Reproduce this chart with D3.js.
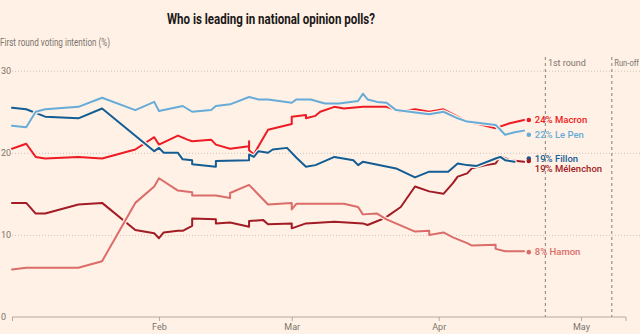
<!DOCTYPE html>
<html>
<head>
<meta charset="utf-8">
<script src="https://cdn.jsdelivr.net/npm/d3@7"></script>
<style>
  body { margin: 0; background: #fff1e5; }
  svg { display: block; font-family: Roboto, "Noto Sans", sans-serif; }
</style>
</head>
<body>
<div id="chart"></div>
<script>
// poll averages: [date, %]
let macronPolls = [["2017-01-01",20.5],["2017-01-04",21.1],["2017-01-06",19.5],["2017-01-08",19.3],["2017-01-15",19.5],["2017-01-20",19.3],["2017-01-27",20.4],["2017-01-31",21.9],["2017-02-01",21.0],["2017-02-05",22.1],["2017-02-07",21.6],["2017-02-08",21.4],["2017-02-12",21.6],["2017-02-13",21.0],["2017-02-16",20.5],["2017-02-20",20.8],["2017-02-20",21.4],["2017-02-20",20.3],["2017-02-21",19.8],["2017-02-24",22.8],["2017-03-01",23.5],["2017-03-01",24.4],["2017-03-04",24.6],["2017-03-04",24.2],["2017-03-06",24.5],["2017-03-07",25.0],["2017-03-10",25.6],["2017-03-12",25.4],["2017-03-16",25.6],["2017-03-21",25.6],["2017-03-24",25.0],["2017-03-27",25.3],["2017-03-30",25.0],["2017-04-02",25.3],["2017-04-05",24.4],["2017-04-07",23.8],["2017-04-10",23.4],["2017-04-13",23.0],["2017-04-16",23.6],["2017-04-19",24.0]];
let lePenPolls = [["2017-01-01",23.3],["2017-01-04",23.1],["2017-01-06",25.0],["2017-01-08",25.3],["2017-01-15",25.6],["2017-01-20",26.7],["2017-01-27",25.2],["2017-01-31",26.2],["2017-02-01",25.1],["2017-02-06",25.7],["2017-02-08",25.0],["2017-02-12",25.2],["2017-02-13",25.7],["2017-02-16",25.9],["2017-02-20",26.8],["2017-02-22",26.5],["2017-02-24",26.5],["2017-03-01",26.1],["2017-03-02",26.5],["2017-03-05",26.5],["2017-03-08",26.0],["2017-03-11",26.0],["2017-03-15",26.3],["2017-03-16",27.2],["2017-03-17",26.5],["2017-03-19",26.2],["2017-03-21",26.1],["2017-03-23",25.2],["2017-03-30",24.7],["2017-04-02",25.0],["2017-04-05",24.2],["2017-04-07",23.8],["2017-04-13",23.4],["2017-04-14",22.8],["2017-04-15",22.2],["2017-04-17",22.5],["2017-04-19",22.7]];
let fillonPolls = [["2017-01-01",25.5],["2017-01-04",25.3],["2017-01-08",24.4],["2017-01-15",24.2],["2017-01-20",25.4],["2017-01-31",20.2],["2017-02-01",20.6],["2017-02-02",20.0],["2017-02-05",20.0],["2017-02-06",19.2],["2017-02-08",19.1],["2017-02-08",18.6],["2017-02-13",18.3],["2017-02-13",19.0],["2017-02-20",19.1],["2017-02-20",19.8],["2017-02-21",19.5],["2017-02-22",20.2],["2017-02-24",20.0],["2017-02-25",20.4],["2017-02-28",20.6],["2017-03-02",19.4],["2017-03-04",18.3],["2017-03-06",18.5],["2017-03-10",19.5],["2017-03-14",19.1],["2017-03-15",18.5],["2017-03-16",18.9],["2017-03-23",18.1],["2017-03-27",17.0],["2017-03-30",17.7],["2017-04-03",17.7],["2017-04-05",18.7],["2017-04-07",18.5],["2017-04-09",18.4],["2017-04-13",19.3],["2017-04-14",19.5],["2017-04-15",19.1],["2017-04-17",18.9]];
let melenchonPolls = [["2017-01-01",13.9],["2017-01-04",13.9],["2017-01-06",12.6],["2017-01-08",12.6],["2017-01-15",13.7],["2017-01-20",13.9],["2017-01-27",10.6],["2017-01-31",10.2],["2017-02-01",9.6],["2017-02-02",10.3],["2017-02-05",10.5],["2017-02-06",10.5],["2017-02-08",11.1],["2017-02-08",12.0],["2017-02-13",11.9],["2017-02-13",11.4],["2017-02-16",11.5],["2017-02-20",11.0],["2017-02-20",11.7],["2017-02-23",11.8],["2017-02-24",11.3],["2017-03-01",11.4],["2017-03-01",10.8],["2017-03-04",11.4],["2017-03-10",11.6],["2017-03-16",11.4],["2017-03-17",11.2],["2017-03-20",11.9],["2017-03-21",12.2],["2017-03-24",13.4],["2017-03-27",15.9],["2017-03-30",15.3],["2017-04-02",15.0],["2017-04-04",16.3],["2017-04-05",17.1],["2017-04-07",17.5],["2017-04-08",18.1],["2017-04-11",18.5],["2017-04-13",18.7],["2017-04-14",19.6],["2017-04-16",19.1],["2017-04-19",18.9]];
let hamonPolls = [["2017-01-01",5.8],["2017-01-04",6.0],["2017-01-15",6.0],["2017-01-20",6.8],["2017-01-27",13.9],["2017-01-31",15.9],["2017-02-01",16.9],["2017-02-05",15.4],["2017-02-08",15.2],["2017-02-08",14.8],["2017-02-13",14.8],["2017-02-16",14.5],["2017-02-16",15.1],["2017-02-20",16.1],["2017-02-24",13.7],["2017-03-01",13.9],["2017-03-01",13.1],["2017-03-02",13.8],["2017-03-12",13.8],["2017-03-15",13.4],["2017-03-16",12.5],["2017-03-19",12.6],["2017-03-21",11.9],["2017-03-27",10.4],["2017-03-30",10.5],["2017-03-30",10.0],["2017-04-02",10.3],["2017-04-04",9.7],["2017-04-07",9.0],["2017-04-08",8.7],["2017-04-13",8.8],["2017-04-13",8.3],["2017-04-15",8.0],["2017-04-19",8.0]];

let candidates = ["Macron", "Le Pen", "Fillon", "Mélenchon", "Hamon"];
let latestDate = "2017-04-20";
let latestValues = [24.0, 22.2, 19.3, 19.0, 7.9];
let latestLabels = ["24%", "22%", "19%", "19%", "8%"];
let yTicks = [0, 10, 20, 30];
let monthTicks = ["2017-01-01", "2017-02-01", "2017-03-01", "2017-04-01", "2017-05-01"];
let events = [["2017-04-23", "1st round"], ["2017-05-07", "Run-off"]];

let series = [macronPolls, lePenPolls, fillonPolls, melenchonPolls, hamonPolls];
let colors = ["#ee1b24", "#67acd8", "#135d94", "#a11c24", "#dc6c6a"];
let drawOrder = [0, 3, 2, 4, 1];   // Le Pen sits on top

const bg = "#fff1e5", grey = "#7b746e";
const width = 640, height = 334;
const plotLeft = 12, plotRight = 626, plotTop = 70.7, plotBottom = 317;
const parse = d3.timeParse("%Y-%m-%d");

let x = d3.scaleTime()
    .domain([parse("2017-01-01"), d3.timeHour.offset(parse("2017-05-10"), 12)])
    .range([plotLeft, plotRight]);
let y = d3.scaleLinear().domain([0, 30]).range([plotBottom, plotTop]);

let svg = d3.select("#chart").append("svg")
    .attr("width", width).attr("height", height);

svg.append("rect").attr("width", width).attr("height", height).attr("fill", bg);

svg.append("text")
    .attr("x", 167).attr("y", 24)
    .attr("font-size", 15).attr("font-weight", 700).attr("fill", "#1a1817")
    .attr("textLength", 208).attr("lengthAdjust", "spacingAndGlyphs")
    .text("Who is leading in national opinion polls?");

svg.append("text")
    .attr("x", 0).attr("y", 46)
    .attr("font-size", 11).attr("fill", grey)
    .attr("textLength", 110).attr("lengthAdjust", "spacingAndGlyphs")
    .text("First round voting intention (%)");

// y grid + labels
let yAxis = svg.append("g")
    .attr("transform", `translate(${plotLeft},0)`)
    .call(d3.axisLeft(y).tickValues(yTicks).tickSize(-(width - plotLeft)).tickFormat(d3.format("d")));
yAxis.select(".domain").remove();
yAxis.selectAll(".tick line")
    .attr("stroke", "#cfc4b8").attr("stroke-dasharray", "1,2")
    .filter(d => d === 0).remove();
yAxis.selectAll(".tick text")
    .attr("x", -plotLeft + 1).attr("text-anchor", "start")
    .attr("font-size", 9).attr("font-family", "Roboto, sans-serif").attr("fill", grey);

// x axis
let xAxis = svg.append("g")
    .attr("transform", `translate(0,${plotBottom})`)
    .call(d3.axisBottom(x).tickValues(monthTicks.map(parse)).tickSize(4).tickPadding(3)
        .tickFormat(d => d.getMonth() === 0 ? "" : d3.timeFormat("%b")(d)));
xAxis.select(".domain").remove();
xAxis.append("line").attr("x1", plotLeft).attr("x2", plotRight).attr("stroke", "#b5aca3");
xAxis.append("line").attr("x1", plotRight).attr("x2", plotRight).attr("y2", 4).attr("stroke", "#b5aca3");
xAxis.selectAll(".tick line").attr("stroke", "#b5aca3");
xAxis.selectAll(".tick text").attr("font-size", 9).attr("font-family", "Roboto, sans-serif").attr("fill", grey);

// election dates
events.forEach(([d, label]) => {
    let ex = x(d3.timeHour.offset(parse(d), 12));
    svg.append("line")
        .attr("x1", ex).attr("x2", ex).attr("y1", 57).attr("y2", plotBottom)
        .attr("stroke", "#9a928b").attr("stroke-width", 1.2).attr("stroke-dasharray", "3,3");
    let t = svg.append("text")
        .attr("x", ex + 2.5).attr("y", 66)
        .attr("font-size", 9).attr("fill", grey)
        .text(label);
    // squeeze the last label so it stays inside the frame
    let room = width - 1 - (ex + 2.5);
    if (t.node().getComputedTextLength() > room) {
        t.attr("textLength", room).attr("lengthAdjust", "spacingAndGlyphs");
    }
});

let line = d3.line()
    .x(d => x(parse(d[0])))
    .y(d => y(d[1]));

let lines = svg.append("g").attr("fill", "none")
    .attr("stroke-linejoin", "round").attr("stroke-linecap", "round");
drawOrder.forEach(i => {
    lines.append("path").attr("d", line(series[i]))
        .attr("stroke", bg).attr("stroke-width", 4.5);
    lines.append("path").attr("d", line(series[i]))
        .attr("stroke", colors[i]).attr("stroke-width", 2);
});

// end dots + labels
let lx = x(parse(latestDate));
let ends = candidates.map((name, i) => ({ name, i, cy: y(latestValues[i]), ly: y(latestValues[i]) }));
let sorted = ends.slice().sort((a, b) => a.ly - b.ly);
for (let k = 1; k < sorted.length; k++) {
    if (sorted[k].ly - sorted[k - 1].ly < 10) sorted[k].ly = sorted[k - 1].ly + 10;
}
ends.forEach(e => {
    svg.append("circle").attr("cx", lx).attr("cy", e.cy).attr("r", 2.3).attr("fill", colors[e.i]);
    svg.append("text")
        .attr("x", lx + 6).attr("y", e.ly).attr("dy", "0.35em")
        .attr("font-size", 9.5).attr("font-weight", 500).attr("fill", colors[e.i])
        .text(latestLabels[e.i] + " " + e.name);
});
</script>
</body>
</html>
